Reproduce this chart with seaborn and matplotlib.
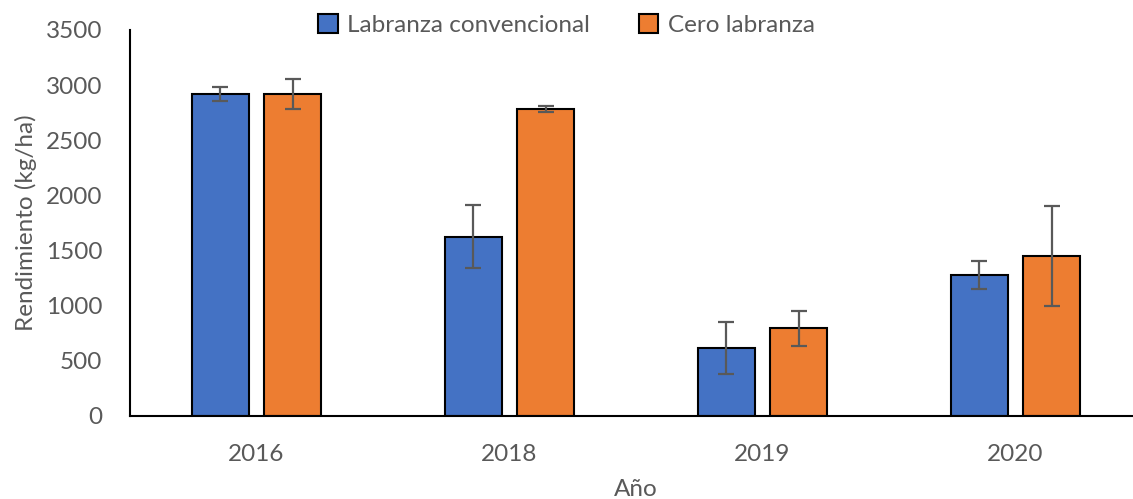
import matplotlib
matplotlib.use("Agg")
import matplotlib.pyplot as plt
import seaborn as sns
import pandas as pd
import numpy as np

years = ["2016", "2018", "2019", "2020"]
series = ["Labranza convencional", "Cero labranza"]
conv_vals = [2922, 1627, 616, 1280]
cero_vals = [2917, 2783, 794, 1450]
conv_err = [65, 285, 235, 125]
cero_err = [135, 25, 158, 453]
colors = ["#4472C4", "#ED7D31"]

sns.set_theme(style="white")
plt.rcParams['font.family'] = ['Lato', 'DejaVu Sans']

df = pd.DataFrame({
    "Año": years * 2,
    "Serie": [series[0]] * 4 + [series[1]] * 4,
    "Valor": conv_vals + cero_vals,
})

fig = plt.figure(figsize=(11.33, 4.99), dpi=100)
ax = fig.add_axes([130/1133, 83/499, 1012/1133, 386/499])

sns.barplot(data=df, x="Año", y="Valor", hue="Serie", order=years,
            hue_order=series, palette=colors, errorbar=None,
            width=0.57, gap=0.21, edgecolor="black", linewidth=1.5,
            saturation=1, ax=ax, legend=True)

errs = {series[0]: conv_err, series[1]: cero_err}
for cont, s in zip(ax.containers, series):
    xs = [p.get_x() + p.get_width() / 2 for p in cont.patches]
    ys = [p.get_height() for p in cont.patches]
    ax.errorbar(xs, ys, yerr=errs[s], fmt="none", ecolor="#595959",
                elinewidth=1.6, capsize=6, capthick=1.6, zorder=5)

fs = 17.5
ax.set_ylim(0, 3500)
ax.set_xlim(-0.5, 3.5)
ax.set_yticks(np.arange(0, 3501, 500))
ax.tick_params(axis="y", labelsize=fs, colors="#595959", pad=20, length=0)
ax.tick_params(axis="x", labelsize=fs, colors="#595959", pad=20, length=0)
for lab in ax.get_yticklabels() + ax.get_xticklabels():
    lab.set_color("#595959")
ax.set_ylabel("Rendimiento (kg/ha)", fontsize=fs, color="#595959", labelpad=6)
ax.set_xlabel("Año", fontsize=fs, color="#595959", labelpad=10)
for side in ["top", "right"]:
    ax.spines[side].set_visible(False)
for side in ["left", "bottom"]:
    ax.spines[side].set_color("black")
    ax.spines[side].set_linewidth(1.5)

handles, labels = ax.get_legend_handles_labels()
ax.get_legend().remove()
leg = fig.legend(handles, labels, loc="center", bbox_to_anchor=(0.5, 1 - 25/499),
                 ncol=2, frameon=False, fontsize=fs, handlelength=0.8,
                 handleheight=0.8, handletextpad=0.4, columnspacing=2.0,
                 labelcolor="#595959")

fig.savefig("out.png", dpi=100)
